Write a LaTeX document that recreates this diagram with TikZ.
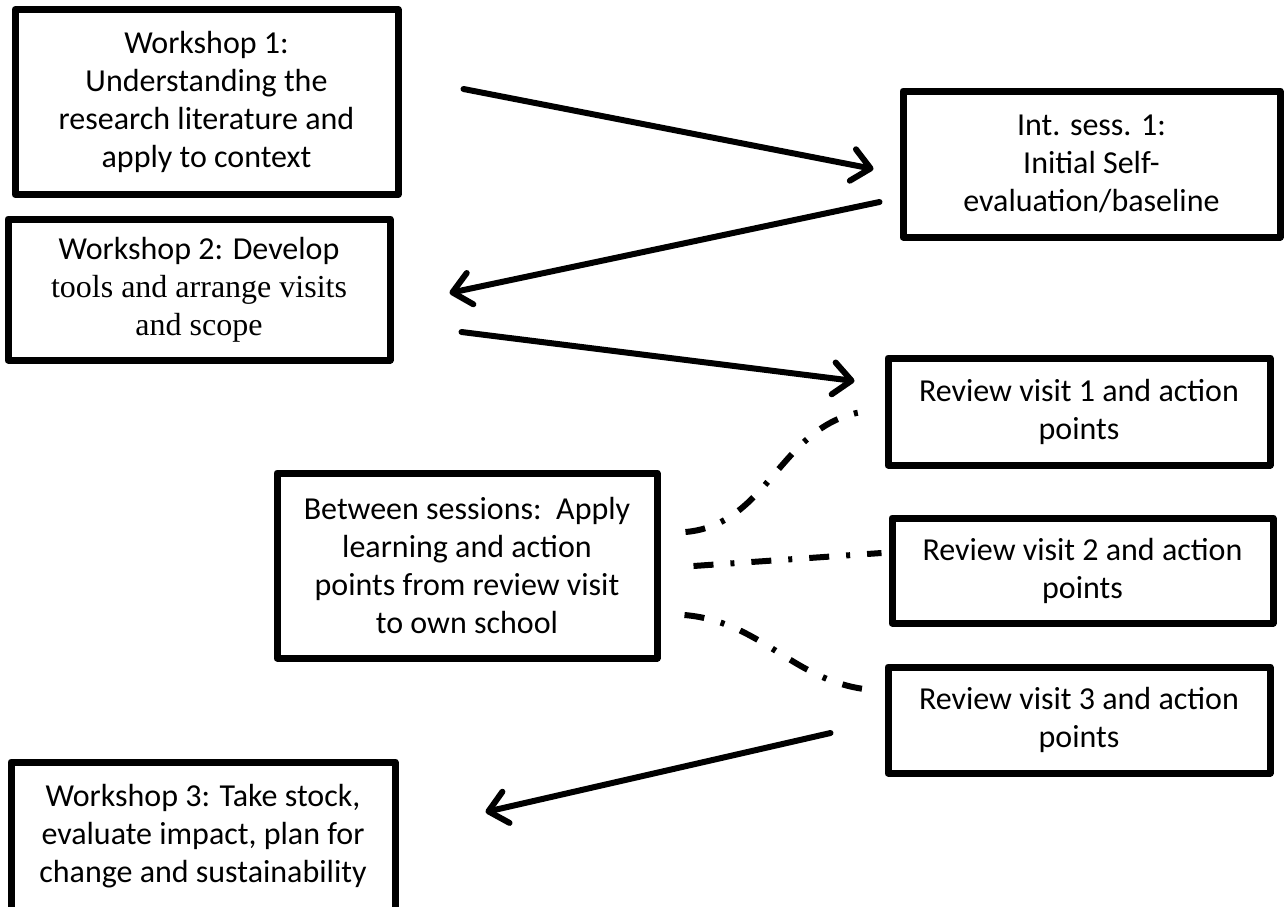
\documentclass[tikz,border=0pt]{standalone}
\usepackage{fontspec}
\setmainfont{Carlito}
\newfontfamily\timesfont{Liberation Serif}
\usetikzlibrary{arrows.meta,calc}

\begin{document}
\begin{tikzpicture}[x=0.5pt, y=-0.5pt,
    box/.style={draw, line width=3.5pt, line join=round, inner sep=0pt, align=center,
        font=\fontsize{16}{19}\selectfont},
    flow/.style={line width=3pt, line cap=round,
        -{Straight Barb[length=9pt, width=16pt, line cap=round, line join=round]}},
    link/.style={line width=3pt, dash pattern=on 10pt off 8.5pt on 2pt off 8.5pt}]
    \useasboundingbox (0,0) rectangle (1285,906);

    % Workshops and sessions
    \node[box, minimum width=191.5pt, minimum height=92.5pt] (ws1) at (206.5,102)
        {Workshop 1:\\Understanding the\\research literature and\\apply to context};
    \node[box, minimum width=188.5pt, minimum height=73pt] (int1) at (1091.5,164)
        {Int. sess. 1:\\Initial Self-\\evaluation/baseline};
    \node[box, minimum width=191pt, minimum height=70.5pt] (ws2) at (199,289.5)
        {Workshop 2: Develop\\{\timesfont tools and arrange visits}\\{\timesfont and scope}};
    \node[box, minimum width=190pt, minimum height=92.5pt] (between) at (467,565.5)
        {Between sessions:\ \ Apply\\learning and action\\points from review visit\\to own school};
    \node[box, minimum width=192pt, minimum height=74pt] (ws3) at (203,836)
        {Workshop 3: Take stock,\\evaluate impact, plan for\\change and sustainability};

    % Review visits
    \node[box, minimum width=191pt, minimum height=53.5pt] (rv1) at (1079,411.5)
        {Review visit 1 and action\\points};
    \node[box, minimum width=190.5pt, minimum height=52.5pt] (rv2) at (1082.5,570.5)
        {Review visit 2 and action\\points};
    \node[box, minimum width=191pt, minimum height=53pt] (rv3) at (1079,720)
        {Review visit 3 and action\\points};

    % Arrows between the steps
    \draw[flow] ($(ws1.east)+(62,-13)$) -- ($(int1.west)+(-26,5)$);
    \draw[flow] ($(int1.west)+(-20,38)$) -- ($(ws2.east)+(56,3.5)$);
    \draw[flow] ($(ws2.east)+(68,42.5)$) -- ($(rv1.west)+(-30,-30.5)$);
    \draw[flow] ($(rv3.west)+(-54,13)$) -- ($(ws3.east)+(87,-24)$);

    % Dash-dot links to the review visits
    \draw[link] ($(between.east)+(25,-33.5)$) to[out=5, in=190] ($(rv1.west)+(-23,0.5)$);
    \draw[link] ($(between.east)+(33,0.5)$) -- ($(rv2.west)+(-7,-17.5)$);
    \draw[link] ($(between.east)+(24,49.5)$) to[out=-5, in=175] ($(rv3.west)+(-12,-30)$);

\end{tikzpicture}
\end{document}
